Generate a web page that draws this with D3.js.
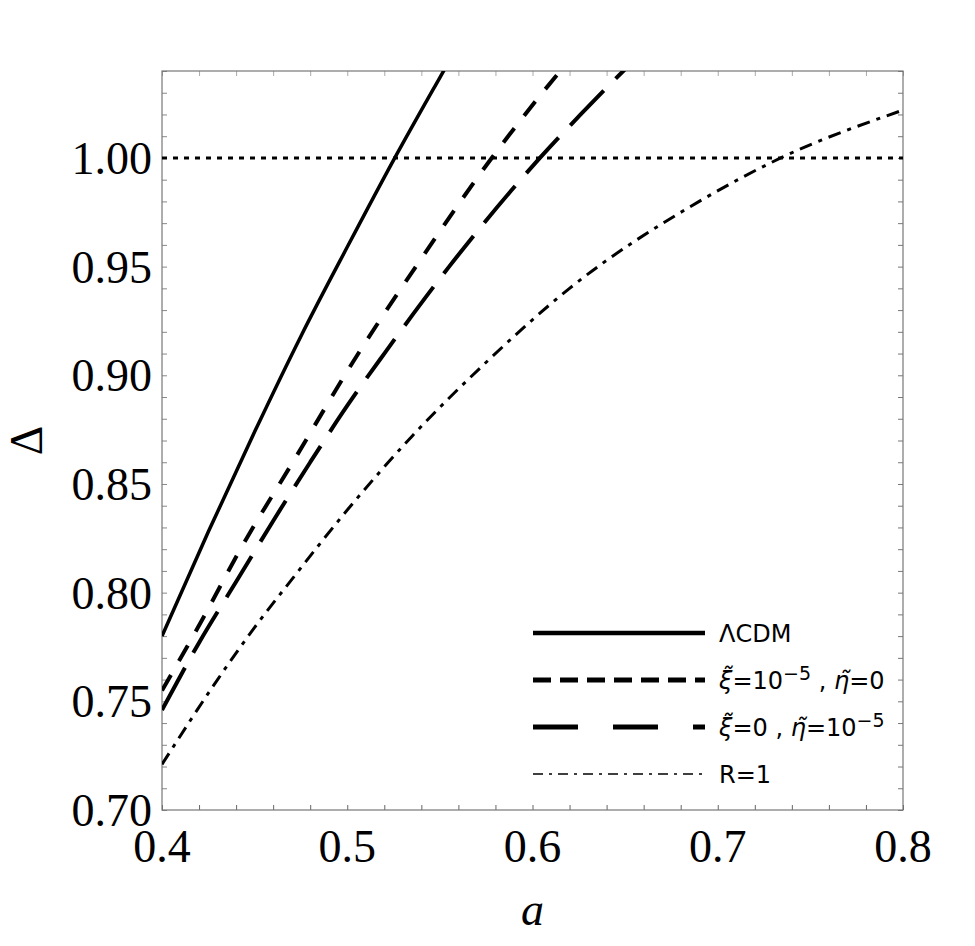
<!DOCTYPE html>
<html>
<head>
<meta charset="utf-8">
<script src="https://cdn.jsdelivr.net/npm/d3@7"></script>
<style>
  body { margin: 0; background: #fff; }
  svg { display: block; }
</style>
</head>
<body>
<svg id="chart" width="975" height="946"></svg>
<script>
// values
const aLCDM = [0.40, 0.425, 0.45, 0.475, 0.50, 0.525, 0.55, 0.56];
const dLCDM = [0.780, 0.828, 0.874, 0.918, 0.959, 0.999, 1.037, 1.052];

const aXi = [0.40, 0.422, 0.441, 0.472, 0.503, 0.541, 0.578, 0.596, 0.615, 0.62];
const dXi = [0.755, 0.788, 0.818, 0.862, 0.906, 0.955, 1.000, 1.020, 1.040, 1.045];

const aEta = [0.40, 0.42, 0.44, 0.46, 0.48, 0.50, 0.52, 0.555, 0.604, 0.626, 0.649, 0.655];
const dEta = [0.746, 0.777, 0.805, 0.833, 0.860, 0.886, 0.910, 0.950, 1.000, 1.020, 1.040, 1.045];

const aR1 = [0.40, 0.43, 0.45, 0.47, 0.50, 0.535, 0.575, 0.62, 0.69, 0.734, 0.80];
const dR1 = [0.721, 0.760, 0.784, 0.806, 0.838, 0.872, 0.906, 0.940, 0.980, 1.000, 1.022];

const xTicks = [0.4, 0.5, 0.6, 0.7, 0.8];
const yTicks = [0.70, 0.75, 0.80, 0.85, 0.90, 0.95, 1.00];
const refLevel = 1.0;

const plotL = 162, plotR = 903, plotT = 71, plotB = 810;

const svg = d3.select("#chart");

const xScale = d3.scaleLinear().domain([0.4, 0.8]).range([plotL, plotR]);
const yScale = d3.scaleLinear().domain([0.70, 1.04]).range([plotB, plotT]);

svg.append("defs").append("clipPath").attr("id", "plotClip")
  .append("rect")
  .attr("x", plotL).attr("y", plotT)
  .attr("width", plotR - plotL).attr("height", plotB - plotT);

// minor ticks, drawn inward on all four sides
const minorX = d3.range(0.40, 0.8001, 0.02);
const minorY = d3.range(0.70, 1.0401, 0.01);
const tickLen = 5;

const bottomAxis = d3.axisBottom(xScale).tickValues(minorX).tickSize(-tickLen).tickFormat("");
const topAxis = d3.axisTop(xScale).tickValues(minorX).tickSize(-tickLen).tickFormat("");
const leftAxis = d3.axisLeft(yScale).tickValues(minorY).tickSize(-tickLen).tickFormat("");
const rightAxis = d3.axisRight(yScale).tickValues(minorY).tickSize(-tickLen).tickFormat("");

function styleAxis(g, col) {
  g.select(".domain").remove();
  g.selectAll(".tick line").attr("stroke", col).attr("stroke-width", 1);
}

svg.append("g").attr("transform", `translate(0,${plotB})`).call(bottomAxis).call(styleAxis, "#666");
svg.append("g").attr("transform", `translate(0,${plotT})`).call(topAxis).call(styleAxis, "#aaa");
svg.append("g").attr("transform", `translate(${plotL},0)`).call(leftAxis).call(styleAxis, "#888");
svg.append("g").attr("transform", `translate(${plotR},0)`).call(rightAxis).call(styleAxis, "#777");

// frame
svg.append("rect")
  .attr("x", plotL).attr("y", plotT)
  .attr("width", plotR - plotL).attr("height", plotB - plotT)
  .attr("fill", "none").attr("stroke", "#777").attr("stroke-width", 1.2);

// tick labels
svg.append("g").selectAll("text").data(xTicks).join("text")
  .attr("x", (d) => xScale(d))
  .attr("y", plotB + 52)
  .attr("text-anchor", "middle")
  .attr("font-family", "Liberation Serif, serif")
  .attr("font-size", 46)
  .text((d) => d3.format(".1f")(d));

svg.append("g").selectAll("text").data(yTicks).join("text")
  .attr("x", plotL - 10)
  .attr("y", (d) => yScale(d))
  .attr("dy", "0.35em")
  .attr("text-anchor", "end")
  .attr("font-family", "Liberation Serif, serif")
  .attr("font-size", 46)
  .text((d) => d3.format(".2f")(d));

// axis titles
svg.append("text")
  .attr("x", (plotL + plotR) / 2)
  .attr("y", 925)
  .attr("text-anchor", "middle")
  .attr("font-family", "Liberation Serif, serif")
  .attr("font-style", "italic")
  .attr("font-size", 46)
  .text("a");

svg.append("text")
  .attr("transform", `translate(42,${(plotT + plotB) / 2}) rotate(-90)`)
  .attr("text-anchor", "middle")
  .attr("font-family", "Liberation Serif, serif")
  .attr("font-size", 46)
  .text("Δ");

// curves
const plot = svg.append("g").attr("clip-path", "url(#plotClip)");

plot.append("line")
  .attr("x1", xScale(0.4)).attr("x2", xScale(0.8))
  .attr("y1", yScale(refLevel)).attr("y2", yScale(refLevel))
  .attr("stroke", "#000").attr("stroke-width", 3)
  .attr("stroke-dasharray", "5,6");

const line = d3.line()
  .x((d) => xScale(d[0]))
  .y((d) => yScale(d[1]))
  .curve(d3.curveMonotoneX);

const series = [
  { xs: aLCDM, ys: dLCDM, w: 3.5, dash: null, legendW: 4.5, legendDash: null },
  { xs: aXi, ys: dXi, w: 4, dash: "18,16", legendW: 5, legendDash: "18,9" },
  { xs: aEta, ys: dEta, w: 4, dash: "48,17", legendW: 5, legendDash: "45,35" },
  { xs: aR1, ys: dR1, w: 3, dash: "13,7,4,7", legendW: 1.6, legendDash: "10,6,3,6" },
];

series.forEach((s) => {
  const pts = s.xs.map((x, i) => [x, s.ys[i]]);
  plot.append("path")
    .attr("d", line(pts))
    .attr("fill", "none")
    .attr("stroke", "#000")
    .attr("stroke-width", s.w)
    .attr("stroke-dasharray", s.dash);
});

// legend
const legendRows = [633, 680, 727, 774];
const legX1 = 533, legX2 = 705, legTextX = 719;
const legend = svg.append("g");

series.forEach((s, i) => {
  legend.append("line")
    .attr("x1", legX1).attr("x2", legX2)
    .attr("y1", legendRows[i]).attr("y2", legendRows[i])
    .attr("stroke", "#000")
    .attr("stroke-width", s.legendW)
    .attr("stroke-dasharray", s.legendDash);
});

function legText(y) {
  return legend.append("text")
    .attr("x", legTextX)
    .attr("y", y + 9)
    .attr("font-family", "DejaVu Sans, sans-serif")
    .attr("font-size", 24);
}

legText(legendRows[0]).text("ΛCDM");

const t2 = legText(legendRows[1]);
t2.append("tspan").attr("font-style", "italic").text("ξ\u0303");
t2.append("tspan").text("=10");
t2.append("tspan").attr("dy", -9).attr("font-size", 19).text("−5");
t2.append("tspan").attr("dy", 9).text(" , ");
t2.append("tspan").attr("font-style", "italic").text("η\u0303");
t2.append("tspan").text("=0");

const t3 = legText(legendRows[2]);
t3.append("tspan").attr("font-style", "italic").text("ξ\u0303");
t3.append("tspan").text("=0 , ");
t3.append("tspan").attr("font-style", "italic").text("η\u0303");
t3.append("tspan").text("=10");
t3.append("tspan").attr("dy", -9).attr("font-size", 19).text("−5");

legText(legendRows[3]).text("R=1");
</script>
</body>
</html>
